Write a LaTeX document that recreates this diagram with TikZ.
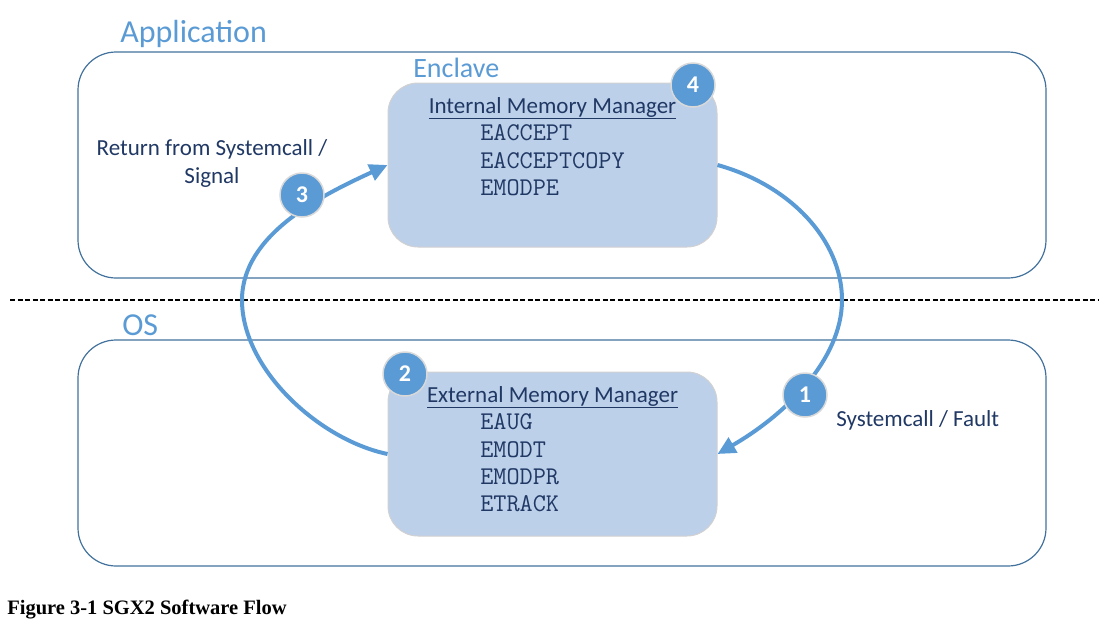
\documentclass[tikz,border=0pt]{standalone}
\usepackage{fontspec}
\setmainfont{Carlito}
\newfontfamily\capfont{Liberation Serif}
\usetikzlibrary{arrows.meta,positioning}

\definecolor{sgxblue}{HTML}{5B9BD5}
\definecolor{boxline}{HTML}{41719C}
\definecolor{mgrfill}{HTML}{BDD0EA}
\definecolor{mgrtext}{HTML}{203864}

\begin{document}
\begin{tikzpicture}[
    x = 1pt, y = -1pt, % pixel units, y grows downwards
    > = {Triangle[length=18pt,width=17pt]}, % arrow head style
    semithick
    ]

    \tikzset{
    region/.style = {draw = boxline, line width = 1.2pt, rounded corners = 38pt,
        minimum width = 968pt, minimum height = 226pt, inner sep = 0pt},
    manager/.style = {draw = black!18, line width = 1pt, fill = mgrfill, rounded corners = 30pt,
        minimum width = 329pt, minimum height = 164pt, inner sep = 0pt},
    title/.style = {text = sgxblue, inner sep = 0pt, anchor = base west},
    mgrtitle/.style = {text = mgrtext, font = \fontsize{23}{27}\selectfont, inner sep = 0pt, anchor = base},
    instr/.style = {text = mgrtext, font = \ttfamily\fontsize{25.5}{28}\selectfont, inner sep = 0pt, anchor = west},
    note/.style = {text = mgrtext, font = \fontsize{23}{28}\selectfont, inner sep = 0pt, align = center},
    stepball/.style = {circle, fill = sgxblue, draw = black!15, line width = 1.5pt, minimum size = 44pt,
        inner sep = 0pt, text = white, font = \bfseries\fontsize{24}{28}\selectfont},
    flow/.style = {->, draw = sgxblue, line width = 4pt}
    }

    \useasboundingbox (0,0) rectangle (1109,619);

    % application and os
    \node[region] (app) at (562,165) {};
    \node[region] (os) at (562,453) {};
    \node[title, font = \fontsize{32}{38}\selectfont] (apptitle) at (120,42) {Application};
    \node[title, font = \fontsize{32}{38}\selectfont] (ostitle) at (122,335) {OS};
    \draw[line width = 1.5pt, dash pattern = on 5pt off 2.5pt] (10,300) -- (1098,300);

    % enclave
    \node[title, font = \fontsize{28}{32}\selectfont] (enctitle) at (413,77) {Enclave};
    \node[manager] (enc) at (552.5,165) {};
    \node[mgrtitle] (intmgr) at (552.5,113) {\underline{Internal Memory Manager}};
    \foreach \name/\y in {EACCEPT/133, EACCEPTCOPY/161, EMODPE/188}
        \node[instr] (\name) at (480,\y) {\name};

    % kernel side
    \node[manager] (ext) at (552.5,454) {};
    \node[mgrtitle] (extmgr) at (552.5,402) {\underline{External Memory Manager}};
    \foreach \name/\y in {EAUG/422, EMODT/450, EMODPR/477, ETRACK/504}
        \node[instr] (\name) at (480,\y) {\name};

    \draw[flow] (enc.east) .. controls (790,185) and (842,240) .. (842,300)
        .. controls (842,360) and (785,415) .. (ext.east);
    \draw[flow] (ext.west) .. controls (320,440) and (242,370) .. (242,300)
        .. controls (242,235) and (320,196) .. (enc.west);

    \node[stepball] (s1) at (805,395) {1};
    \node[stepball] (s2) at (405,374) {2};
    \node[stepball] (s3) at (302,195) {3};
    \node[stepball] (s4) at (693,85) {4};

    \node[note] (retnote) at (212,163) {Return from Systemcall /\\Signal};
    \node[note, anchor = base west] (faultnote) at (836,426) {Systemcall / Fault};

    \node[anchor = base west, inner sep = 0pt, font = \capfont\bfseries\fontsize{20.5}{24}\selectfont]
        (caption) at (7,614) {Figure 3-1 SGX2 Software Flow};
\end{tikzpicture}
\end{document}
